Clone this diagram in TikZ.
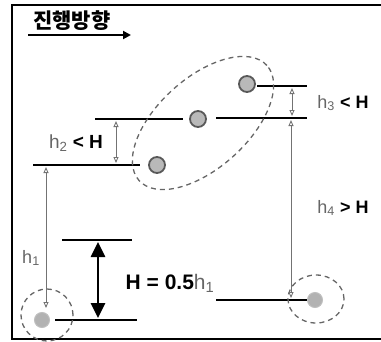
\documentclass[tikz,border=0pt]{standalone}
\usepackage{fontspec}
\setmainfont{Liberation Sans}
\newfontfamily\kor{Noto Sans CJK KR}
\usetikzlibrary{arrows.meta}
\tikzset{
  level/.style={line width=2pt, black},
  harrow/.style={black!55, line width=0.9pt,
    {Triangle[open,length=6pt,width=5pt]}-{Triangle[open,length=6pt,width=5pt]}},
  bigarrow/.style={line width=2.6pt, black,
    {Triangle[length=15pt,width=14pt]}-{Triangle[length=15pt,width=14pt]}},
  ball/.style={circle, minimum size=16pt, inner sep=0pt, draw=black!65, line width=1.8pt, fill=gray!55},
  fuzzball/.style={circle, minimum size=15pt, inner sep=0pt, draw=gray!50, line width=1pt, fill=gray!60},
  dcirc/.style={draw=black!60, dash pattern=on 5pt off 4pt, line width=1.3pt},
  lab/.style={inner sep=0pt, text=black}
}
\newcommand{\hh}[1]{{\color{black!60}h\textsubscript{#1}}}
\begin{document}
\begin{tikzpicture}[x=1pt,y=-1pt]
\useasboundingbox (0,0) rectangle (381,341);
% frame
\draw[line width=1.5pt] (381,5) -- (12,5) -- (12,339) -- (381,339);
% title
\node[inner sep=0pt] (title) at (72,21) {\kor\bfseries\fontsize{21}{23}\selectfont 진행방향};
\coordinate (ta) at (28,35);
\coordinate (tb) at (131,35);
\draw[line width=2pt, -{Triangle[length=8pt,width=8pt]}] (ta) -- (tb);
% level lines
\coordinate (l1a) at (55,320); \coordinate (l1b) at (137,320);
\coordinate (hta) at (62,240); \coordinate (htb) at (132,240);
\coordinate (l2a) at (33,165); \coordinate (l2b) at (140,165);
\coordinate (l3a) at (95,119); \coordinate (l3b) at (183,119);
\coordinate (l3c) at (216,118); \coordinate (l3d) at (307,118);
\coordinate (l4a) at (257,86); \coordinate (l4b) at (307,86);
\coordinate (l5a) at (216,300); \coordinate (l5b) at (307,300);
\draw[level] (l1a) -- (l1b);
\draw[level] (hta) -- (htb);
\draw[level] (l2a) -- (l2b);
\draw[level] (l3a) -- (l3b);
\draw[level] (l3c) -- (l3d);
\draw[level] (l4a) -- (l4b);
\draw[level] (l5a) -- (l5b);
% balls
\node[fuzzball] (b1) at (42,320) {};
\node[ball] (b2) at (157,165) {};
\node[ball] (b3) at (198,119) {};
\node[ball] (b4) at (247,84) {};
\node[fuzzball] (b5) at (315,300) {};
% dashed enclosures
\draw[dcirc] (47,315) circle [radius=26pt];
\draw[dcirc] (316,299) ellipse [x radius=28pt, y radius=24pt];
\draw[dcirc, rotate around={42:(203,123)}] (203,123) ellipse [x radius=86pt, y radius=45pt];
% height arrows
\coordinate (h1a) at (46,167); \coordinate (h1b) at (46,308);
\coordinate (h2a) at (116,121); \coordinate (h2b) at (116,163);
\coordinate (h3a) at (292,88); \coordinate (h3b) at (292,116);
\coordinate (h4a) at (291,120); \coordinate (h4b) at (291,298);
\coordinate (Ha) at (98,242); \coordinate (Hb) at (98,318);
\draw[harrow] (h1a) -- (h1b);
\draw[harrow] (h2a) -- (h2b);
\draw[harrow] (h3a) -- (h3b);
\draw[harrow] (h4a) -- (h4b);
\draw[bigarrow] (Ha) -- (Hb);
% labels
\node[lab, font=\fontsize{18}{20}\selectfont] (t1) at (31,258) {\hh{1}};
\node[lab, font=\fontsize{19}{21}\selectfont] (t2) at (76,143) {\hh{2} \textbf{< H}};
\node[lab, font=\fontsize{18}{20}\selectfont] (t3) at (343,103) {\hh{3} \textbf{< H}};
\node[lab, font=\fontsize{18}{20}\selectfont] (t4) at (343,208) {\hh{4} \textbf{> H}};
\node[lab, font=\fontsize{21}{23}\selectfont] (tH) at (170,283) {\textbf{H = 0.5}\hh{1}};
\end{tikzpicture}
\end{document}
